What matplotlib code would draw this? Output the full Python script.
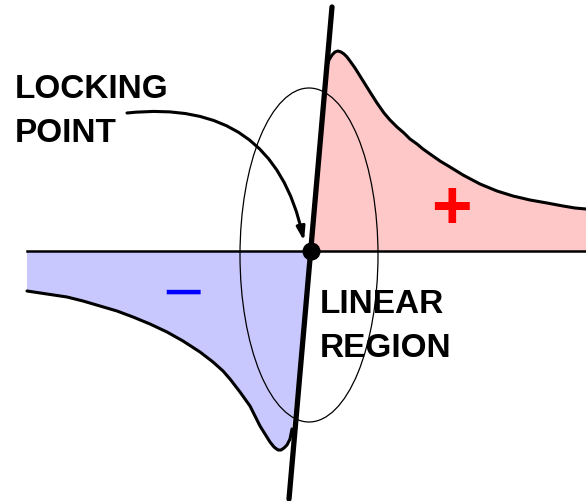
import matplotlib
matplotlib.use("Agg")
import matplotlib.pyplot as plt
from matplotlib.patches import Ellipse, Polygon

# ---- data (image pixel coordinates of the sketch) ----
pos_x = [311, 327, 329, 332, 335, 338, 341, 344, 347, 350, 355, 360, 365, 370, 377, 384, 390, 397,
         404, 410, 417, 423, 430, 440, 450, 463, 480, 497, 513, 530, 547, 563, 575, 586]
pos_y = [252, 67, 61, 56, 53, 52, 53, 55, 58, 62, 69, 77, 85, 93, 104, 114, 121, 128,
         134, 140, 145, 150, 155, 162, 168, 176, 185, 192, 197, 201, 204, 207, 209, 210]
neg_x = [27, 47, 67, 83, 100, 117, 133, 150, 167, 183, 200, 213, 223, 230, 240, 250, 255, 260, 265,
         270, 274, 278, 281, 284, 287, 290, 292, 311]
neg_y = [292, 295, 298, 302, 307, 312, 318, 325, 333, 342, 353, 363, 372, 380, 393, 407, 417, 427, 435,
         443, 448, 451, 451, 449, 446, 440, 430, 252]
base_x = [27, 586]
base_y = [252, 252]
line_x = [289, 332]
line_y = [500, 8]
lock_pt = (311, 252)
region_center = (309, 256)
region_size = (138, 334)

fig = plt.figure(figsize=(5.86, 5.02), dpi=100)
ax = fig.add_axes([0, 0, 1, 1])
ax.set_xlim(0, 586)
ax.set_ylim(502, 0)
ax.axis("off")

# fills
ax.add_patch(Polygon(list(zip(pos_x, pos_y)) + [(586, 252)], closed=True,
                     facecolor="#ffc8c8", edgecolor="none", zorder=1))
ax.add_patch(Polygon(list(zip(neg_x, neg_y)) + [(27, 252)], closed=True,
                     facecolor="#c8c8ff", edgecolor="none", zorder=1))

# curves
ax.plot(pos_x[1:], pos_y[1:], color="black", lw=2.2, zorder=3,
        solid_capstyle="round", solid_joinstyle="round")
ax.plot(neg_x[:-1], neg_y[:-1], color="black", lw=2.2, zorder=3,
        solid_capstyle="round", solid_joinstyle="round")
ax.plot(base_x, base_y, color="black", lw=1.8, zorder=3)

# linear region ellipse
ax.add_patch(Ellipse(region_center, region_size[0], region_size[1], fill=False,
                     edgecolor="black", lw=0.9, zorder=4))

# steep line
ax.plot(line_x, line_y, color="black", lw=3.8, zorder=5, solid_capstyle="round")

# locking point
ax.plot([lock_pt[0]], [lock_pt[1]], "o", color="black", markersize=12, zorder=6)

# arrow
ax.annotate("", xy=(304, 242), xytext=(127, 114),
            arrowprops=dict(arrowstyle="-|>,head_length=0.8,head_width=0.25", color="black",
                            lw=2.2, connectionstyle="arc3,rad=-0.45", shrinkA=0, shrinkB=0),
            zorder=6)

fam = ["Liberation Sans", "DejaVu Sans"]
ax.text(15, 98, "LOCKING", fontsize=24, fontweight="bold", family=fam, va="baseline", ha="left")
ax.text(15, 142, "POINT", fontsize=24, fontweight="bold", family=fam, va="baseline", ha="left")
ax.text(320, 313, "LINEAR", fontsize=24, fontweight="bold", family=fam, va="baseline", ha="left")
ax.text(320, 357, "REGION", fontsize=24, fontweight="bold", family=fam, va="baseline", ha="left")

ax.text(451, 228, "+", fontsize=50, fontweight="bold", family=fam, color="#ff0000",
        va="baseline", ha="center", zorder=7)
ax.text(183, 294, "\u2212", fontsize=39, family=["DejaVu Sans"], color="#0000ff",
        va="center", ha="center", zorder=7)

fig.savefig("out.png", dpi=100)
